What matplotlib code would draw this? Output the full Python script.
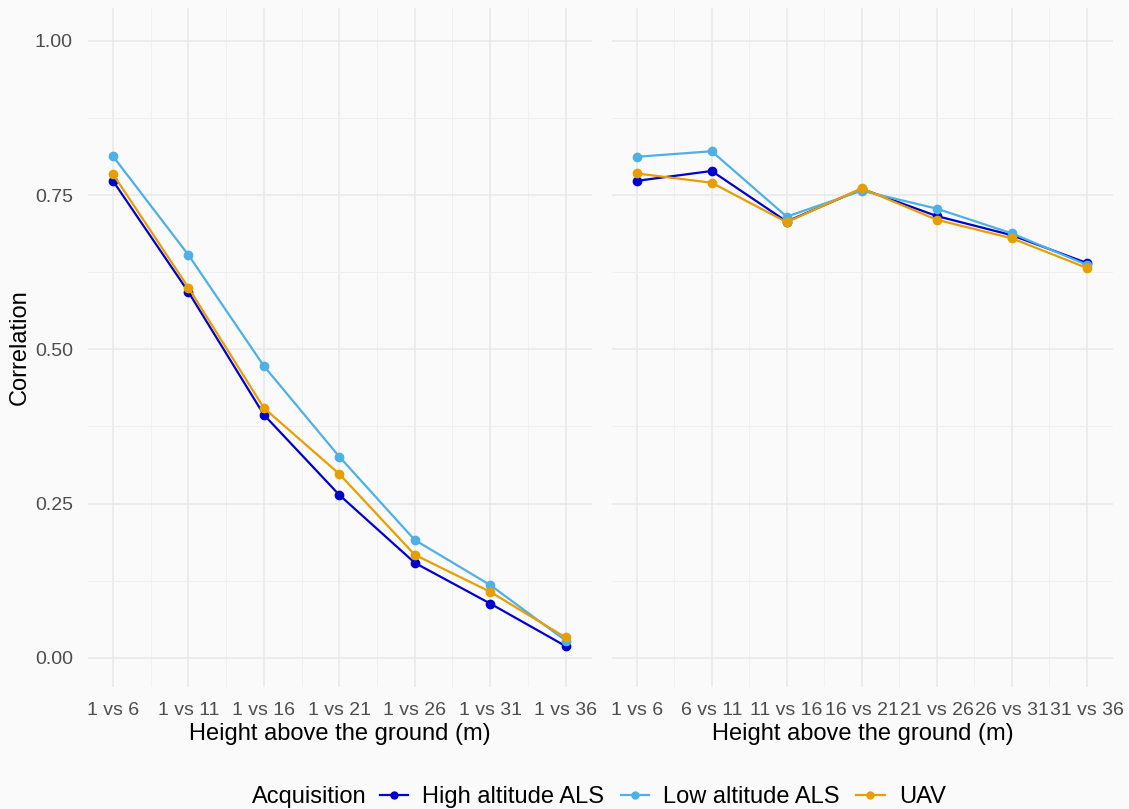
import numpy as np
import matplotlib.pyplot as plt
from matplotlib.lines import Line2D

plt.rcParams['font.family'] = ['Liberation Sans', 'DejaVu Sans']

# data
left_labels = ["1 vs 6", "1 vs 11", "1 vs 16", "1 vs 21", "1 vs 26", "1 vs 31", "1 vs 36"]
right_labels = ["1 vs 6", "6 vs 11", "11 vs 16", "16 vs 21", "21 vs 26", "26 vs 31", "31 vs 36"]

series = ["High altitude ALS", "Low altitude ALS", "UAV"]
colors = ["#0000CD", "#4FB0E6", "#E69F00"]

left_high = [0.773, 0.593, 0.394, 0.264, 0.154, 0.088, 0.019]
left_low = [0.813, 0.653, 0.473, 0.326, 0.191, 0.118, 0.028]
left_uav = [0.784, 0.600, 0.405, 0.298, 0.167, 0.107, 0.033]

right_high = [0.773, 0.789, 0.707, 0.760, 0.716, 0.685, 0.640]
right_low = [0.812, 0.821, 0.715, 0.757, 0.728, 0.688, 0.637]
right_uav = [0.785, 0.770, 0.706, 0.761, 0.710, 0.680, 0.632]

bg = "#FAFAFA"
fig = plt.figure(figsize=(11.29, 8.09), dpi=100, facecolor=bg)
ax1 = fig.add_axes([0.078, 0.151, 0.4464, 0.839])
ax2 = fig.add_axes([0.542, 0.151, 0.4438, 0.839])


def style_panel(ax, labels, show_y):
    ax.set_facecolor(bg)
    x = np.arange(len(labels))
    ax.set_xlim(-0.33, len(labels) - 1 + 0.35)
    ax.set_ylim(-0.047, 1.053)
    ax.set_xticks(x)
    ax.set_xticks(x[:-1] + 0.5, minor=True)
    ax.set_xticklabels(labels)
    ax.set_yticks([0, 0.25, 0.5, 0.75, 1.0])
    ax.set_yticks([0.125, 0.375, 0.625, 0.875], minor=True)
    if show_y:
        ax.set_yticklabels(["0.00", "0.25", "0.50", "0.75", "1.00"])
        ax.set_ylabel("Correlation", fontsize=17, color="black", labelpad=3)
    else:
        ax.set_yticklabels([])
    ax.grid(which="major", color="#E8E8E8", linewidth=1.1)
    ax.grid(which="minor", color="#F0F0F0", linewidth=0.7)
    ax.set_axisbelow(True)
    for s in ax.spines.values():
        s.set_visible(False)
    ax.tick_params(which="both", length=0, labelsize=14, labelcolor="#4D4D4D", pad=11)
    ax.set_xlabel("Height above the ground (m)", fontsize=17, color="black", labelpad=3)


for ax, labels, vals in [
    (ax1, left_labels, [left_high, left_low, left_uav]),
    (ax2, right_labels, [right_high, right_low, right_uav]),
]:
    style_panel(ax, labels, ax is ax1)
    x = np.arange(len(labels))
    for v, c in zip(vals, colors):
        ax.plot(x, v, color=c, linewidth=1.6, marker="o", markersize=6)

handles = [Line2D([], [], color=c, marker="o", markersize=5, linewidth=1.6) for c in colors]
fig.text(0.2735, 0.015, "Acquisition", fontsize=17, ha="center", va="center")
fig.legend(handles, series, loc="center", bbox_to_anchor=(0.587, 0.015), ncol=3,
           frameon=False, fontsize=17, handlelength=1.2, handletextpad=0.6,
           columnspacing=0.7, borderpad=0, borderaxespad=0)

fig.savefig("out.png", dpi=100, facecolor=bg)
